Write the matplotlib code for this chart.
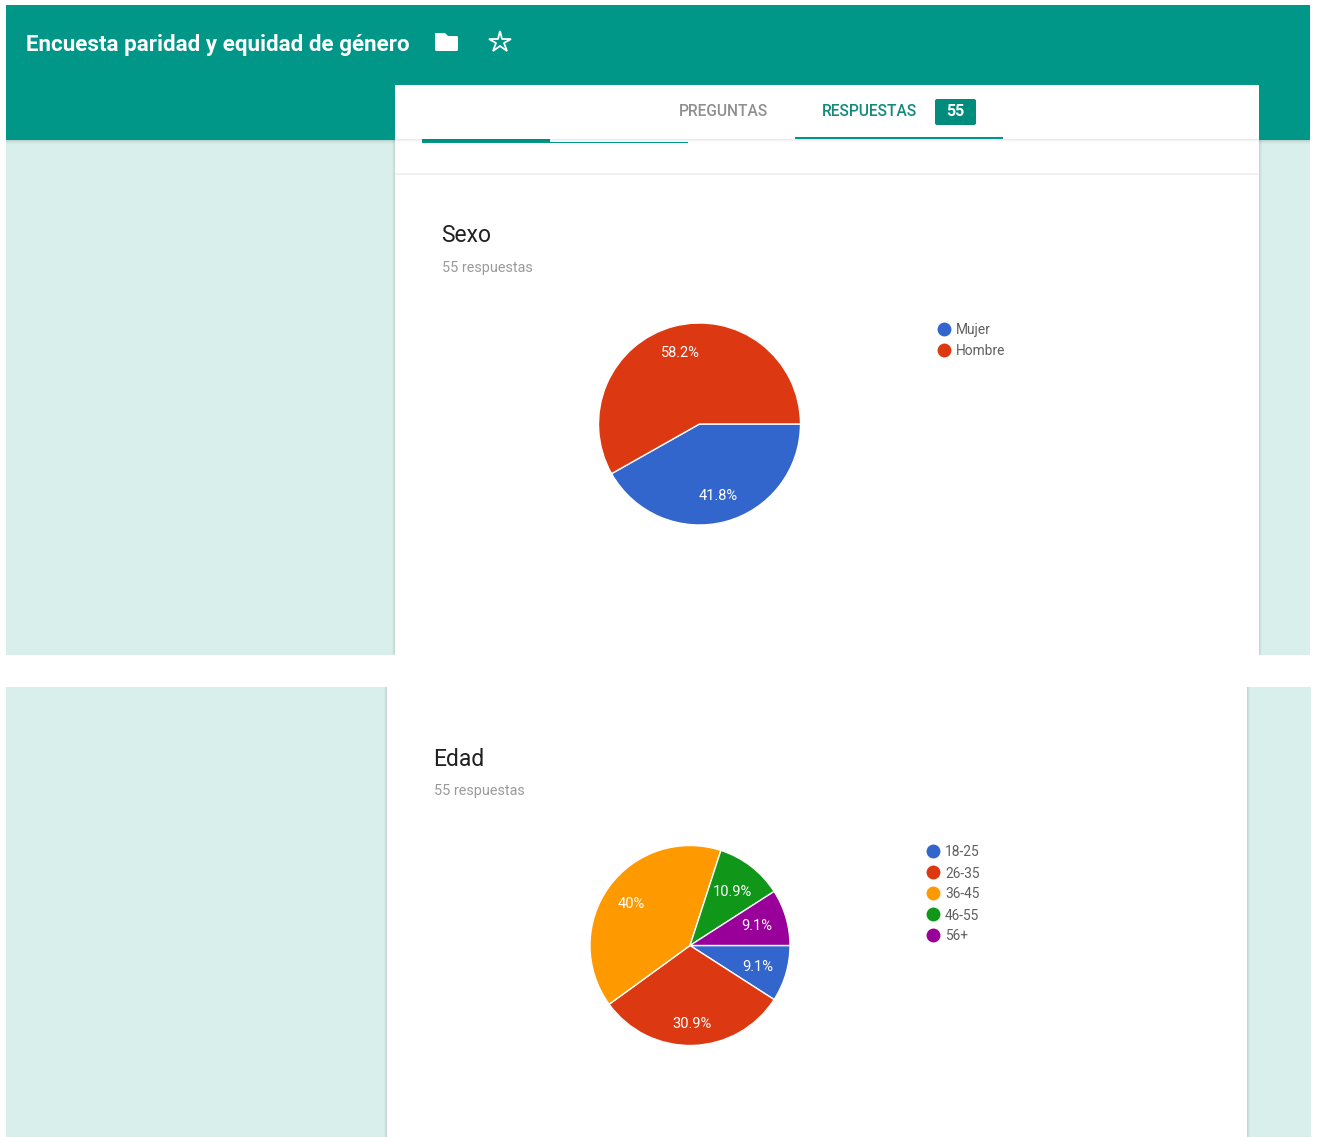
import matplotlib
matplotlib.use('Agg')
import matplotlib.pyplot as plt
from matplotlib.patches import Rectangle, FancyBboxPatch, Polygon

plt.rcParams['font.family'] = ['Roboto', 'DejaVu Sans']

W, H = 1317, 1137

# ========== DATA ==========
form_title = 'Encuesta paridad y equidad de género'
total_responses = 55

sexo_labels = ['Mujer', 'Hombre']
sexo_counts = [23, 32]
sexo_colors = ['#3366cc', '#dc3912']

edad_labels = ['18-25', '26-35', '36-45', '46-55', '56+']
edad_counts = [5, 17, 22, 6, 5]
edad_colors = ['#3366cc', '#dc3912', '#ff9900', '#109618', '#990099']

TEAL = '#009688'
PALE = '#d8efeb'


def fy(py):
    # picture pixels run downwards, axes run upwards
    return H - py


def box(ax, x0, y0, x1, y1, color, z=1, alpha=1):
    ax.add_patch(Rectangle((x0, fy(y1)), x1 - x0, y1 - y0, fc=color, ec='none', zorder=z, alpha=alpha))


def label(ax, x, y, s, size, color, ha='left', weight='normal', z=6):
    ax.text(x, fy(y), s, fontsize=size, color=color, ha=ha, va='center', fontweight=weight, zorder=z)


def fmt_pct(p):
    s = f'{p:.1f}'
    return (s[:-2] if s.endswith('.0') else s) + '%'


def draw_question(ax, x_text, y_title, title, labels, counts, colors, center, radius, x_leg, y_leg, nudges):
    label(ax, x_text - 0.7, y_title + 2, title, 16.5, '#212121')
    label(ax, x_text, y_title + 34, f'{sum(counts)} respuestas', 10.4, '#9a9a9a')
    _, _, pcts = ax.pie(counts, colors=colors, center=(center[0], fy(center[1])), radius=radius,
                        startangle=0, counterclock=False, autopct=fmt_pct, pctdistance=0.73,
                        wedgeprops={'edgecolor': 'white', 'linewidth': 1, 'zorder': 4})
    for t, (dx, dy) in zip(pcts, nudges):
        x, y = t.get_position()
        t.set_position((x + dx, y - dy))
        t.set(color='white', fontsize=10.5, zorder=6)
    for i, name in enumerate(labels):
        y = y_leg + i * 21
        ax.scatter([x_leg], [fy(y) + 0.7], s=100, color=colors[i], linewidths=0, zorder=5)
        label(ax, x_leg + 12, y + 0.5, name, 9.9, '#5f5f5f')


fig = plt.figure(figsize=(W / 100, H / 100), dpi=100, facecolor='white')
ax = fig.add_axes([0, 0, 1, 1])

# ========== PAGE BACKGROUND ==========
box(ax, 6, 5, 1310, 655, PALE)
box(ax, 6, 687, 1311, 1137, PALE)
box(ax, 6, 5, 1310, 139.5, TEAL, z=3)

# header shadow
for i, a in enumerate([0.12, 0.07, 0.04, 0.02]):
    box(ax, 6, 139.5 + i, 1310, 140.5 + i, '#000000', z=1.5, alpha=a)

# card shadows
for (x0, x1, y0, y1) in [(395, 1259, 85, 655), (387, 1246.5, 687, 1137)]:
    for i, a in enumerate([0.09, 0.05, 0.025]):
        box(ax, x0 - 1 - i, y0 if y0 > 100 else 140, x0 - i, y1, '#000000', z=1.5, alpha=a)
        box(ax, x1 + i, y0 if y0 > 100 else 140, x1 + 1 + i, y1, '#000000', z=1.5, alpha=a)
    box(ax, x0, y0, x1, y1, 'white', z=3.5)

# ========== HEADER ==========
label(ax, 26, 45, form_title, 16.1, 'white', weight='bold')

# folder icon
ax.add_patch(FancyBboxPatch((435, fy(51)), 23, 15, boxstyle='round,pad=0,rounding_size=1.5',
                            fc='white', ec='none', zorder=6))
ax.add_patch(Polygon([(435, fy(37)), (435, fy(33)), (445, fy(33)), (449, fy(37))], fc='white', ec='none', zorder=6))

# star icon
ax.plot([500], [fy(42)], marker='*', ms=16, mfc='none', mec='white', mew=1.3, zorder=6)

# ========== TABS ==========
label(ax, 679, 112, 'PREGUNTAS', 11.2, '#8f8f8f', weight='medium')
label(ax, 822, 112, 'RESPUESTAS', 11.2, '#14897a', weight='medium')
ax.add_patch(FancyBboxPatch((935, fy(125)), 41, 26, boxstyle='round,pad=0,rounding_size=2',
                            fc='#008c7d', ec='none', zorder=6))
label(ax, 955.5, 111.5, str(total_responses), 11.5, 'white', ha='center', weight='bold', z=7)
box(ax, 795, 136.5, 1003, 138.5, TEAL, z=6)
for i, a in enumerate([0.08, 0.05, 0.02]):
    box(ax, 395, 139 + i, 1259, 140 + i, '#000000', z=5, alpha=a)

# summary bar peeking out from under the tabs
box(ax, 422, 139, 550, 143, TEAL, z=4)
box(ax, 550, 141.5, 688, 143, TEAL, z=4)
box(ax, 395, 173, 1259, 175, '#f0f0f0', z=4)

# ========== QUESTIONS ==========
draw_question(ax, 442, 234, 'Sexo', sexo_labels, sexo_counts, sexo_colors, (699.5, 424), 101, 944, 329.5,
              [(0, 1), (-0.5, 0)])
draw_question(ax, 434, 757, 'Edad', edad_labels, edad_counts, edad_colors, (690, 945.5), 100, 933, 852,
              [(-2.5, 0.5), (-0.5, 6), (0, 1), (-2, 4), (-3, 1)])

ax.set_xlim(0, W)
ax.set_ylim(0, H)
ax.set_aspect('auto')
ax.axis('off')

fig.savefig('out.png', dpi=100, facecolor='white')
